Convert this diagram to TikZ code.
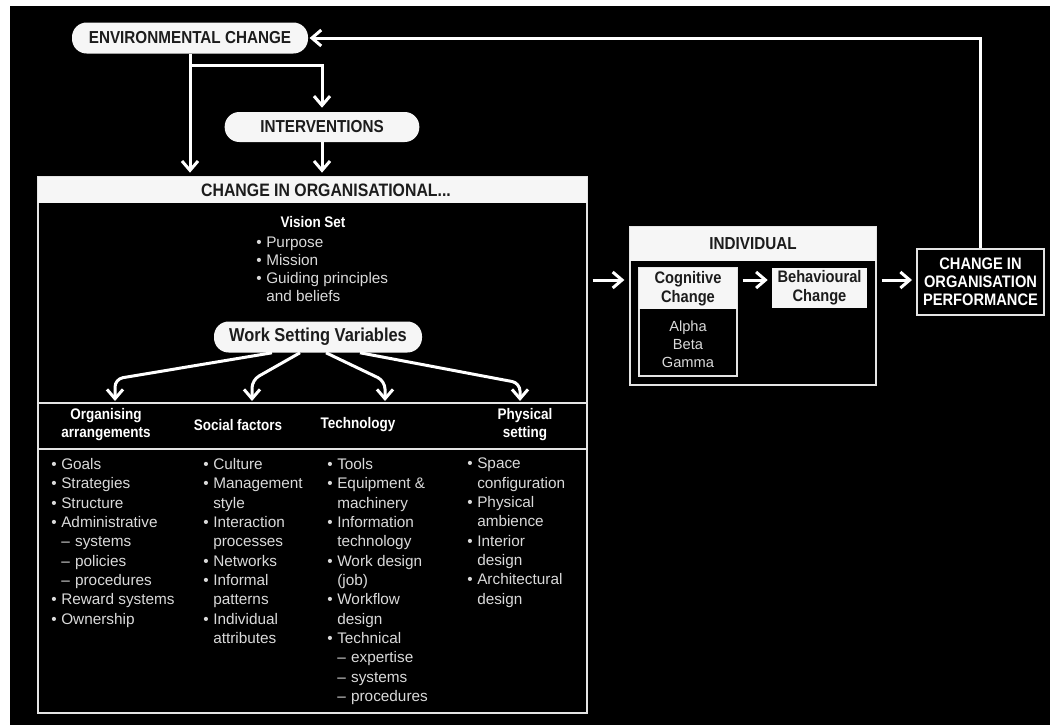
\documentclass[tikz,border=0pt]{standalone}
\usepackage{fontspec}
\setmainfont{Liberation Sans}
\newfontfamily\cnd[FakeStretch=0.88]{Liberation Sans}
\usetikzlibrary{arrows.meta}
\definecolor{ink}{HTML}{1C1C1C}
\definecolor{paper}{HTML}{F6F6F6}
\definecolor{txt}{HTML}{DADADA}
\definecolor{rule}{HTML}{E4E4E4}
\newcommand\lbul{\makebox[7.5pt][l]{\textbullet}}
\newcommand\lind{\hspace*{7.5pt}}
\newcommand\ldash{\lind--\hspace{4pt}}
\begin{document}
\begin{tikzpicture}[x=0.75pt,y=-0.75pt,
  arr/.style={draw=white, line width=2.25pt, -{Straight Barb[length=7pt,width=12pt]}},
  pill/.style={fill=paper, rounded corners=11pt, inner sep=0pt, text=ink,
    font=\cnd\bfseries\fontsize{13}{15}\selectfont},
  frame/.style={draw=rule, line width=1.5pt, inner sep=0pt},
  bar/.style={fill=paper, inner sep=0pt, text=ink, align=center,
    font=\cnd\bfseries\fontsize{12.5}{14}\selectfont},
  hdr/.style={text=white, align=center, inner sep=0pt,
    font=\cnd\bfseries\fontsize{11.5}{13.5}\selectfont},
  lst/.style={text=txt, align=left, inner sep=0pt,
    font=\fontsize{11.5}{14.5}\selectfont},
  sep/.style={draw=rule, line width=1.5pt}
]
\useasboundingbox (0,0) rectangle (1050,725);
\fill[white] (0,0) rectangle (1050,725);
\fill[black] (10,6) rectangle (1050,725);

% top pills
\node[pill, minimum width=177pt, minimum height=23.25pt] (env) at (190,38) {ENVIRONMENTAL CHANGE};
\node[pill, minimum width=146pt, minimum height=22.5pt] (int) at (322,127) {INTERVENTIONS};

% organisational box
\node[frame, minimum width=411.75pt, minimum height=402pt] (org) at (312.5,445) {};
\node[fill=paper, inner sep=0pt, minimum width=411.75pt, minimum height=19.5pt] (orgbar) at (312.5,190) {};
\node[text=ink, inner sep=0pt, font=\cnd\bfseries\fontsize{13.5}{15}\selectfont] (orgt) at (326,190) {CHANGE IN ORGANISATIONAL...};

\node[text=white, inner sep=0pt, font=\cnd\bfseries\fontsize{11.5}{13}\selectfont] (vis) at (313,222) {Vision Set};
\node[text=txt, align=left, inner sep=0pt, anchor=north west,
  font=\fontsize{11.5}{13.3}\selectfont] (visl) at (256,237)
  {\lbul Purpose\\ \lbul Mission\\ \lbul Guiding principles\\ \lind and beliefs};

\node[pill, minimum width=156pt, minimum height=23.25pt,
  font=\cnd\bfseries\fontsize{14}{16}\selectfont] (wsv) at (318,337) {Work Setting Variables};

\coordinate (t1) at (115,401);
\coordinate (t2) at (252,401);
\coordinate (t3) at (385,401);
\coordinate (t4) at (520,401);
\draw[arr, rounded corners=6pt] (wsv.south -| 272,0) -- (115,379) -- (t1);
\draw[arr, rounded corners=6pt] (wsv.south -| 300,0) -- (252,380) -- (t2);
\draw[arr, rounded corners=6pt] (wsv.south -| 326,0) -- (385,381) -- (t3);
\draw[arr, rounded corners=6pt] (wsv.south -| 360,0) -- (520,383) -- (t4);

\draw[sep] (org.west |- 0,403) -- (org.east |- 0,403);
\draw[sep] (org.west |- 0,449) -- (org.east |- 0,449);

\node[hdr] (h1) at (106,425) {Organising\\arrangements};
\node[hdr] (h2) at (238,425) {Social factors};
\node[hdr] (h3) at (358,425) {Technology};
\node[hdr] (h4) at (525,425) {Physical\\setting};

\node[lst, anchor=north west] (c1) at (51,458)
  {\lbul Goals\\ \lbul Strategies\\ \lbul Structure\\ \lbul Administrative\\
   \ldash systems\\ \ldash policies\\ \ldash procedures\\ \lbul Reward systems\\ \lbul Ownership};
\node[lst, anchor=north west] (c2) at (203,458)
  {\lbul Culture\\ \lbul Management\\ \lind style\\ \lbul Interaction\\ \lind processes\\
   \lbul Networks\\ \lbul Informal\\ \lind patterns\\ \lbul Individual\\ \lind attributes};
\node[lst, anchor=north west] (c3) at (327,458)
  {\lbul Tools\\ \lbul Equipment \&\\ \lind machinery\\ \lbul Information\\ \lind technology\\
   \lbul Work design\\ \lind (job)\\ \lbul Workflow\\ \lind design\\ \lbul Technical\\
   \ldash expertise\\ \ldash systems\\ \ldash procedures};
\node[lst, anchor=north west] (c4) at (467,458)
  {\lbul Space\\ \lind configuration\\ \lbul Physical\\ \lind ambience\\ \lbul Interior\\
   \lind design\\ \lbul Architectural\\ \lind design};

% individual
\node[frame, minimum width=184.5pt, minimum height=118.5pt] (ind) at (753,306) {};
\node[bar, minimum width=184.5pt, minimum height=25.5pt, font=\cnd\bfseries\fontsize{13}{15}\selectfont] (indt) at (753,244) {INDIVIDUAL};
\node[frame, minimum width=73.5pt, minimum height=81pt] (cog) at (688,322) {};
\node[bar, minimum width=73.5pt, minimum height=30.75pt] (cogt) at (688,288.5) {Cognitive\\Change};
\node[text=txt, align=center, inner sep=0pt, font=\fontsize{11}{13.5}\selectfont] (abg) at (688,344) {Alpha\\Beta\\Gamma};
\node[bar, minimum width=71.25pt, minimum height=30pt] (beh) at (819.5,288) {Behavioural\\Change};

% performance
\node[frame, text=white, align=center, minimum width=95.25pt, minimum height=49.5pt,
  font=\cnd\bfseries\fontsize{12.5}{13.5}\selectfont] (perf) at (980.5,282)
  {CHANGE IN\\ORGANISATION\\PERFORMANCE};

% connectors
\draw[arr] (env.south) -- (env.south |- org.north) [shorten >=2.5pt];
\draw[arr, shorten >=3pt] (env.south |- 0,65) -| (int.north);
\draw[arr, shorten >=2.5pt] (int.south) -- (int.south |- org.north);
\draw[arr, shorten <=3.5pt, shorten >=3.5pt] (org.east |- 0,280) -- (ind.west |- 0,280);
\draw[arr, shorten <=4pt, shorten >=3pt] (cogt.east |- 0,280) -- (beh.west |- 0,280);
\draw[arr, shorten <=3.5pt, shorten >=3pt] (ind.east |- 0,280) -- (perf.west |- 0,280);
\draw[arr, shorten >=1pt] (perf.north) |- (env.east);
\end{tikzpicture}
\end{document}
